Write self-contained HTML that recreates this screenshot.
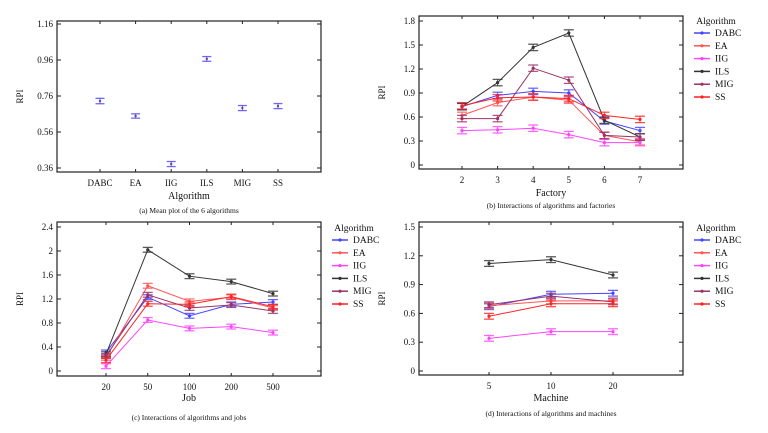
<!DOCTYPE html>
<html><head><meta charset="utf-8">
<style>
html,body{margin:0;padding:0;background:#fff;}
svg{display:block;font-family:"Liberation Serif",serif;}
svg text{font-family:"Liberation Serif",serif;}
</style></head>
<body>
<svg id="chart" width="768" height="433" viewBox="0 0 768 433" xmlns="http://www.w3.org/2000/svg"></svg>
<script>
// ---- data ----
const algorithms = ["DABC","EA","IIG","ILS","MIG","SS"];
const meanValues = [0.732,0.649,0.382,0.966,0.693,0.704];
const meanErr = [0.015,0.012,0.014,0.013,0.014,0.014];
const meanTicks = [0.36,0.56,0.76,0.96,1.16];

const factoryCats = ["2","3","4","5","6","7"];
const factoryDABC = [0.73,0.87,0.92,0.90,0.55,0.43];
const factoryEA   = [0.62,0.78,0.85,0.81,0.37,0.29];
const factoryIIG  = [0.43,0.44,0.46,0.38,0.28,0.28];
const factoryILS  = [0.73,1.03,1.47,1.65,0.56,0.35];
const factoryMIG  = [0.58,0.58,1.21,1.06,0.37,0.35];
const factorySS   = [0.74,0.84,0.85,0.83,0.62,0.57];
const factoryTicks = [0,0.3,0.6,0.9,1.2,1.5,1.8];

const jobCats = ["20","50","100","200","500"];
const jobDABC = [0.31,1.23,0.92,1.11,1.15];
const jobEA   = [0.22,1.42,1.16,1.23,1.05];
const jobIIG  = [0.08,0.85,0.71,0.74,0.64];
const jobILS  = [0.28,2.02,1.58,1.49,1.29];
const jobMIG  = [0.25,1.27,1.05,1.10,1.00];
const jobSS   = [0.18,1.12,1.11,1.24,1.07];
const jobTicks = [0,0.4,0.8,1.2,1.6,2,2.4];

const machineCats = ["5","10","20"];
const machineDABC = [0.67,0.80,0.81];
const machineEA   = [0.68,0.73,0.73];
const machineIIG  = [0.34,0.41,0.41];
const machineILS  = [1.12,1.16,1.00];
const machineMIG  = [0.69,0.78,0.72];
const machineSS   = [0.57,0.70,0.70];
const machineTicks = [0,0.3,0.6,0.9,1.2,1.5];

const colors = {DABC:"#4444ff",EA:"#ff5555",IIG:"#ff44ff",ILS:"#333333",MIG:"#993366",SS:"#ff2222"};
const NS="http://www.w3.org/2000/svg";
const svg=document.getElementById('chart');
function mk(tag,attrs,parent){const e=document.createElementNS(NS,tag);for(const k in attrs)e.setAttribute(k,attrs[k]);(parent||svg).appendChild(e);return e;}
function txt(s,x,y,size,anchor,parent){const t=mk('text',{x:x,y:y,'font-size':size,'text-anchor':anchor||'middle',fill:'#111','font-family':'Liberation Serif, serif'},parent);t.textContent=s;return t;}

function panel(cfg){
  const g=mk('g',{});
  
  
  const yS=v=>cfg.y0-(v-cfg.ymin)/(cfg.ymax-cfg.ymin)*(cfg.y0-cfg.y1);
  const xS=i=>cfg.xa+i*cfg.xstep;
  const fr=mk('rect',{x:cfg.L,y:cfg.T,width:cfg.R-cfg.L,height:cfg.B-cfg.T,fill:'none',stroke:'#222','stroke-width':1.2},g);
  
  
  cfg.ticks.forEach(v=>{
    const y=yS(v);
    mk('line',{x1:cfg.L,x2:cfg.L+4,y1:y,y2:y,stroke:'#222'},g);
    mk('line',{x1:cfg.R-4,x2:cfg.R,y1:y,y2:y,stroke:'#222'},g);
    const t=txt(String(v),cfg.L-4,y+3,9,'end',g);
    
    
  });
  cfg.cats.forEach((c,i)=>{
    const x=xS(i);
    mk('line',{x1:x,x2:x,y1:cfg.B,y2:cfg.B-3,stroke:'#222'},g);
    mk('line',{x1:x,x2:x,y1:cfg.T,y2:cfg.T+3,stroke:'#222'},g);
    const t=txt(c,x,cfg.B+14,9,'middle',g);
    
    
  });
  const yl=txt('RPI',0,0,9,'middle',g);
  yl.setAttribute('transform',`translate(${cfg.L-34},${(cfg.T+cfg.B)/2}) rotate(-90)`);
  
  
  const xl=txt(cfg.xlabel,(cfg.L+cfg.R)/2,cfg.xlY,10,'middle',g);
  
  
  const cp=txt(cfg.caption,(cfg.L+cfg.R)/2,cfg.capY,7.5,'middle',g);
  
  
  return {g,xS,yS};
}
function errbar(g,x,y1,y2,col,w){
  mk('line',{x1:x,x2:x,y1:y1,y2:y2,stroke:col,'stroke-width':1,opacity:0.8},g);
  mk('line',{x1:x-w,x2:x+w,y1:y1,y2:y1,stroke:col,'stroke-width':1.3,opacity:0.8},g);
  mk('line',{x1:x-w,x2:x+w,y1:y2,y2:y2,stroke:col,'stroke-width':1.3,opacity:0.8},g);
}
function interaction(cfg,series,err){
  const p=panel(cfg);
  algorithms.forEach((a,k)=>{
    const vals=series[k];const col=colors[a];
    const sg=mk('g',{},p.g);
    
    
    const pts=vals.map((v,i)=>p.xS(i)+','+p.yS(v)).join(' ');
    mk('polyline',{points:pts,fill:'none',stroke:col,'stroke-width':1},sg);
    vals.forEach((v,i)=>{
      const x=p.xS(i);
      errbar(sg,x,p.yS(v+err),p.yS(v-err),col,5);
      const m=mk('circle',{cx:x,cy:p.yS(v),r:1.6,fill:col},sg);
      
      
    });
  });
  const lg=mk('g',{},p.g);
  
  
  txt('Algorithm',cfg.legX+14,cfg.legY,9.5,'middle',lg);
  algorithms.forEach((a,k)=>{
    const y=cfg.legY+12+k*12.8;
    const e=mk('g',{},lg);
    
    
    mk('line',{x1:cfg.legX-8,x2:cfg.legX+8,y1:y-3,y2:y-3,stroke:colors[a],'stroke-width':1.5},e);
    mk('circle',{cx:cfg.legX,cy:y-3,r:1.6,fill:colors[a]},e);
    txt(a,cfg.legX+13,y,9.5,'start',e);
  });
}

(function(){
  const cfg={name:'panel-a-mean-plot',L:57,R:321,T:21,B:172,y0:168,y1:24,ymin:0.36,ymax:1.16,
    xa:100,xstep:35.6,cats:algorithms,ticks:meanTicks,xlabel:'Algorithm',xlY:199,caption:'(a)  Mean plot of the 6 algorithms',capY:213};
  const p=panel(cfg);
  meanValues.forEach((v,i)=>{
    const x=p.xS(i);
    errbar(p.g,x,p.yS(v+meanErr[i]),p.yS(v-meanErr[i]),'#4444ff',4.5);
    const m=mk('circle',{cx:x,cy:p.yS(v),r:1.2,fill:'#993366'},p.g);
    
    
  });
})();

interaction({name:'panel-b-factories',L:419,R:683,T:16,B:169,y0:165,y1:21,ymin:0,ymax:1.8,
  xa:462,xstep:35.6,cats:factoryCats,ticks:factoryTicks,xlabel:'Factory',xlY:196,caption:'(b)  Interactions of algorithms and factories',capY:208,legX:702,legY:24},
  [factoryDABC,factoryEA,factoryIIG,factoryILS,factoryMIG,factorySS],0.04);

interaction({name:'panel-c-jobs',L:57,R:321,T:222,B:376,y0:371,y1:227,ymin:0,ymax:2.4,
  xa:106,xstep:41.75,cats:jobCats,ticks:jobTicks,xlabel:'Job',xlY:401,caption:'(c)  Interactions of algorithms and jobs',capY:420,legX:340,legY:231},
  [jobDABC,jobEA,jobIIG,jobILS,jobMIG,jobSS],0.04);

interaction({name:'panel-d-machines',L:419,R:683,T:222,B:375,y0:371,y1:227,ymin:0,ymax:1.5,
  xa:489,xstep:62,cats:machineCats,ticks:machineTicks,xlabel:'Machine',xlY:401,caption:'(d)  Interactions of algorithms and machines',capY:416,legX:702,legY:231},
  [machineDABC,machineEA,machineIIG,machineILS,machineMIG,machineSS],0.03);
</script>
</body></html>
